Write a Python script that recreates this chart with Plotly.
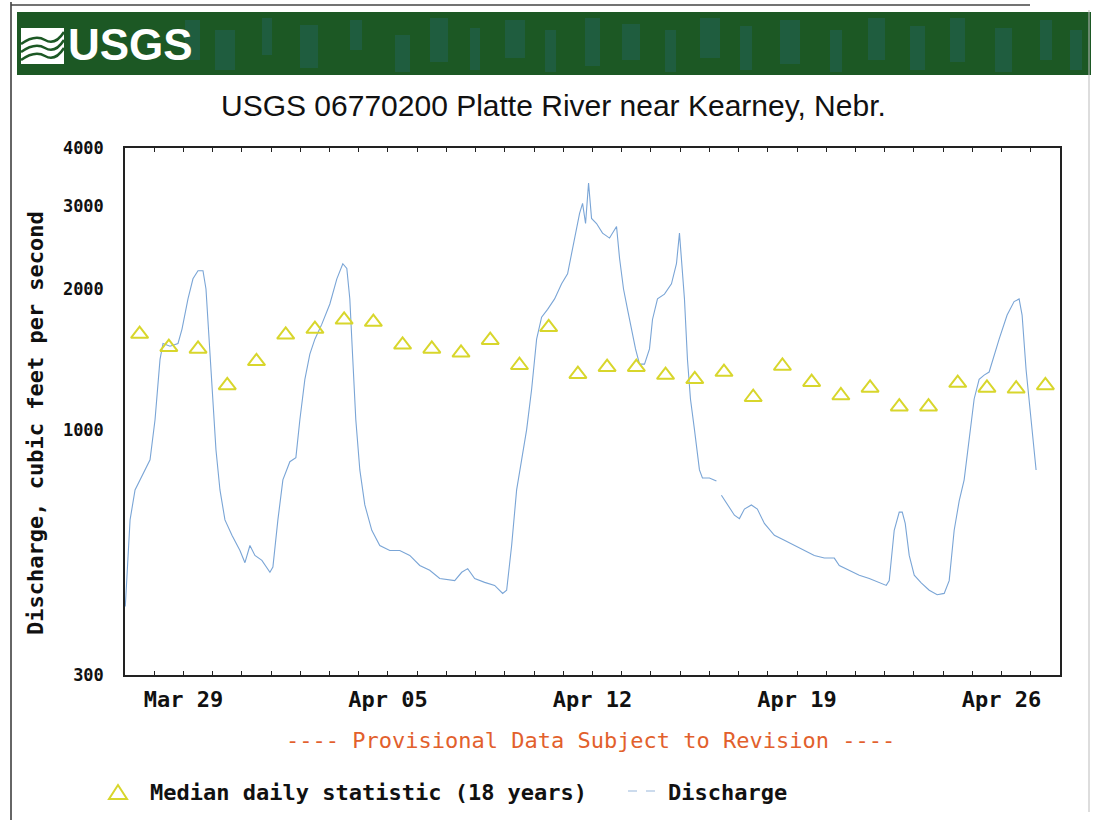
import plotly.graph_objects as go

# ---------------- data ----------------
dis_time = [
    "2007-03-27 00:15", "2007-03-27 04:10", "2007-03-27 08:15", "2007-03-27 16:28", "2007-03-27 20:34",
    "2007-03-28 00:40", "2007-03-28 04:46", "2007-03-28 07:14", "2007-03-28 12:58", "2007-03-28 19:32",
    "2007-03-28 22:49", "2007-03-29 03:44", "2007-03-29 07:50", "2007-03-29 11:57", "2007-03-29 16:03",
    "2007-03-29 18:31", "2007-03-29 20:58", "2007-03-29 23:26", "2007-03-30 02:43", "2007-03-30 06:00",
    "2007-03-30 10:06", "2007-03-30 15:51", "2007-03-30 22:25", "2007-03-31 02:31", "2007-03-31 06:37",
    "2007-03-31 10:43", "2007-03-31 16:27", "2007-03-31 23:02", "2007-04-01 01:29", "2007-04-01 05:35",
    "2007-04-01 09:41", "2007-04-01 15:25", "2007-04-01 20:21", "2007-04-01 23:38", "2007-04-02 03:44",
    "2007-04-02 07:50", "2007-04-02 11:57", "2007-04-02 17:41", "2007-04-03 00:16", "2007-04-03 06:00",
    "2007-04-03 10:55", "2007-04-03 14:12", "2007-04-03 16:40", "2007-04-03 19:07", "2007-04-03 21:35",
    "2007-04-04 00:53", "2007-04-04 04:59", "2007-04-04 10:43", "2007-04-04 17:16", "2007-04-05 01:29",
    "2007-04-05 09:41", "2007-04-05 17:54", "2007-04-06 02:06", "2007-04-06 10:18", "2007-04-06 18:31",
    "2007-04-07 06:50", "2007-04-07 12:34", "2007-04-07 17:29", "2007-04-07 23:13", "2007-04-08 07:26",
    "2007-04-08 15:38", "2007-04-08 22:13", "2007-04-09 01:29", "2007-04-09 05:35", "2007-04-09 09:41",
    "2007-04-09 13:47", "2007-04-09 17:54", "2007-04-09 22:00", "2007-04-10 02:06", "2007-04-10 06:12",
    "2007-04-10 11:07", "2007-04-10 16:52", "2007-04-10 22:37", "2007-04-11 03:32", "2007-04-11 06:50",
    "2007-04-11 10:06", "2007-04-11 13:23", "2007-04-11 15:51", "2007-04-11 18:18", "2007-04-11 20:46",
    "2007-04-11 23:13", "2007-04-12 03:19", "2007-04-12 08:15", "2007-04-12 14:00", "2007-04-12 19:45",
    "2007-04-12 22:13", "2007-04-13 01:29", "2007-04-13 04:46", "2007-04-13 08:03", "2007-04-13 11:20",
    "2007-04-13 14:37", "2007-04-13 18:43", "2007-04-13 22:49", "2007-04-14 01:17", "2007-04-14 05:23",
    "2007-04-14 11:07", "2007-04-14 16:52", "2007-04-14 20:58", "2007-04-14 23:26", "2007-04-15 01:04",
    "2007-04-15 03:32", "2007-04-15 06:00", "2007-04-15 08:28", "2007-04-15 11:45", "2007-04-15 15:51",
    "2007-04-15 18:18", "2007-04-16 00:02", "2007-04-16 05:47", "2007-04-16 07:50", "2007-04-16 09:53",
    "2007-04-16 14:49", "2007-04-16 20:34", "2007-04-17 00:40", "2007-04-17 04:46", "2007-04-17 10:30",
    "2007-04-17 15:25", "2007-04-17 21:11", "2007-04-18 05:23", "2007-04-18 13:36", "2007-04-18 21:47",
    "2007-04-19 06:00", "2007-04-19 14:12", "2007-04-19 22:25", "2007-04-20 06:37", "2007-04-20 10:43",
    "2007-04-20 18:56", "2007-04-21 03:08", "2007-04-21 11:20", "2007-04-21 19:32", "2007-04-22 01:17",
    "2007-04-22 03:44", "2007-04-22 07:50", "2007-04-22 11:57", "2007-04-22 14:25", "2007-04-22 16:52",
    "2007-04-22 20:09", "2007-04-23 00:16", "2007-04-23 06:00", "2007-04-23 12:34", "2007-04-23 19:07",
    "2007-04-24 00:53", "2007-04-24 04:59", "2007-04-24 09:05", "2007-04-24 13:10", "2007-04-24 17:16",
    "2007-04-24 21:22", "2007-04-25 01:29", "2007-04-25 05:35", "2007-04-25 09:41", "2007-04-25 13:47",
    "2007-04-25 17:54", "2007-04-25 22:00", "2007-04-26 04:34", "2007-04-26 10:18", "2007-04-26 14:25",
    "2007-04-26 16:52", "2007-04-26 20:09", "2007-04-27 00:16", "2007-04-27 04:22",
]
dis_cfs = [
    420, 643, 745, 822, 864,
    1052, 1415, 1530, 1510, 1530,
    1643, 1905, 2103, 2188, 2188,
    2000, 1563, 1222, 908, 745,
    643, 596, 553, 521, 567,
    540, 527, 497, 510, 643,
    783, 856, 873, 1052, 1283,
    1452, 1563, 1683, 1858, 2103,
    2265, 2213, 1905, 1415, 1052,
    822, 692, 611, 567, 553,
    553, 540, 514, 502, 482,
    477, 497, 506, 482, 473,
    466, 448, 455, 567, 745,
    864, 1002, 1222, 1563, 1742,
    1810, 1905, 2052, 2156, 2383,
    2632, 2900, 3046, 2760, 3366,
    2830, 2760, 2632, 2569, 2720,
    2326, 2000, 1810, 1643, 1490,
    1383, 1383, 1490, 1722, 1905,
    1950, 2052, 2265, 2632, 2326,
    1905, 1415, 1165, 1002, 822,
    790, 790, 778, None, 726,
    692, 658, 647, 678, 692,
    678, 632, 596, 582, 567,
    553, 540, 533, 533, 514,
    502, 490, 482, 473, 466,
    477, 611, 668, 668, 632,
    540, 490, 472, 455, 445,
    448, 477, 611, 705, 783,
    953, 1165, 1283, 1310, 1330,
    1452, 1563, 1760, 1880, 1905,
    1760, 1345, 1052, 822,
]

median_day = [
    "2007-03-27 12:00", "2007-03-28 12:00", "2007-03-29 12:00", "2007-03-30 12:00",
    "2007-03-31 12:00", "2007-04-01 12:00", "2007-04-02 12:00", "2007-04-03 12:00",
    "2007-04-04 12:00", "2007-04-05 12:00", "2007-04-06 12:00", "2007-04-07 12:00",
    "2007-04-08 12:00", "2007-04-09 12:00", "2007-04-10 12:00", "2007-04-11 12:00",
    "2007-04-12 12:00", "2007-04-13 12:00", "2007-04-14 12:00", "2007-04-15 12:00",
    "2007-04-16 12:00", "2007-04-17 12:00", "2007-04-18 12:00", "2007-04-19 12:00",
    "2007-04-20 12:00", "2007-04-21 12:00", "2007-04-22 12:00", "2007-04-23 12:00",
    "2007-04-24 12:00", "2007-04-25 12:00", "2007-04-26 12:00", "2007-04-27 12:00",
]
median_cfs = [
    1603, 1503, 1490, 1245, 1402, 1597, 1643, 1719,
    1700, 1520, 1490, 1462, 1555, 1375, 1657, 1316,
    1362, 1362, 1310, 1283, 1330, 1175, 1370, 1265,
    1185, 1230, 1122, 1122, 1260, 1230, 1225, 1245,
]

x_tick_dates = ["2007-03-29", "2007-04-05", "2007-04-12", "2007-04-19", "2007-04-26"]
x_tick_text = ["Mar 29", "Apr 05", "Apr 12", "Apr 19", "Apr 26"]
y_tick_vals = [300, 1000, 2000, 3000, 4000]
y_tick_text = ["300", "1000", "2000", "3000", "4000"]

title_text = "USGS 06770200 Platte River near Kearney, Nebr."
y_title = "Discharge, cubic feet per second"
provisional_text = "---- Provisional Data Subject to Revision ----"
legend_median = "Median daily statistic (18 years)"
legend_discharge = "Discharge"

# ---------------- layout geometry ----------------
W, H = 1093, 820
L, R, T, B = 125, 1060, 148, 675
MONO = "DejaVu Sans Mono"


def px(x):
    return (x - L) / (R - L)


def py(y):
    return (B - y) / (B - T)


fig = go.Figure()

fig.add_trace(go.Scatter(
    x=dis_time, y=dis_cfs, mode="lines",
    line=dict(color="#7aa5d6", width=1.1),
    connectgaps=False, showlegend=False, hoverinfo="x+y",
))
fig.add_trace(go.Scatter(
    x=median_day, y=median_cfs, mode="markers",
    marker=dict(symbol="triangle-up-open", size=15, color="#d8d62c",
                line=dict(width=2, color="#d8d62c")),
    showlegend=False,
))

shapes = []
# outer page frame
shapes.append(dict(type="line", xref="paper", yref="paper", x0=px(11), x1=px(11), y0=py(2), y1=py(820),
                   line=dict(color="#333333", width=1.5)))
shapes.append(dict(type="line", xref="paper", yref="paper", x0=px(11), x1=px(1030), y0=py(5), y1=py(5),
                   line=dict(color="#444444", width=1.5)))
shapes.append(dict(type="line", xref="paper", yref="paper", x0=px(1089), x1=px(1089), y0=py(10), y1=py(812),
                   line=dict(color="#bbbbbb", width=1)))

# banner (dark green with bluish speckled texture)
shapes.append(dict(type="rect", xref="paper", yref="paper", x0=px(17), x1=px(1091), y0=py(12), y1=py(75),
                   fillcolor="#1c5824", line=dict(width=0), layer="below"))
streaks = [(185, 200, 20, 60), (215, 235, 30, 70), (262, 272, 18, 55), (300, 318, 25, 68),
           (350, 362, 20, 50), (395, 410, 35, 72), (430, 448, 18, 62), (470, 480, 28, 70),
           (505, 525, 20, 58), (545, 556, 30, 72), (585, 600, 18, 66), (622, 640, 24, 60),
           (665, 676, 30, 72), (700, 720, 18, 58), (740, 752, 26, 70), (780, 800, 20, 64),
           (830, 842, 30, 72), (868, 885, 18, 60), (910, 925, 26, 70), (950, 965, 18, 62),
           (995, 1012, 28, 72), (1040, 1052, 20, 60), (1070, 1082, 30, 70)]
for a, b, c, d in streaks:
    shapes.append(dict(type="rect", xref="paper", yref="paper", x0=px(a), x1=px(b), y0=py(c), y1=py(d),
                       fillcolor="rgba(45,115,160,0.22)", line=dict(width=0), layer="below"))
# logo icon
shapes.append(dict(type="rect", xref="paper", yref="paper", x0=px(21), x1=px(64), y0=py(28), y1=py(64),
                   fillcolor="white", line=dict(width=0)))
for dy in (38, 46, 54):
    shapes.append(dict(type="path", xref="paper", yref="paper",
                       path=f"M {px(21)},{py(dy+6)} Q {px(35)},{py(dy-4)} {px(45)},{py(dy+2)} T {px(64)},{py(dy-6)}",
                       line=dict(color="#1c5824", width=2.5)))

# legend symbols
shapes.append(dict(type="path", xref="paper", yref="paper",
                   path=f"M {px(109)},{py(799)} L {px(127)},{py(799)} L {px(118)},{py(785)} Z",
                   line=dict(color="#d8d62c", width=2)))
shapes.append(dict(type="line", xref="paper", yref="paper", x0=px(628), x1=px(656), y0=py(791), y1=py(791),
                   line=dict(color="#9ab7dc", width=1.2, dash="dash")))

annotations = [
    dict(text="<b>USGS</b>", x=px(66), y=py(45), xref="paper", yref="paper", xanchor="left", yanchor="middle",
         showarrow=False, font=dict(family="Liberation Sans Narrow, Liberation Sans", size=44, color="white")),
    dict(text=title_text, x=px(553), y=py(105), xref="paper", yref="paper", xanchor="center", yanchor="middle",
         showarrow=False, font=dict(family="Liberation Sans Narrow, Liberation Sans", size=30, color="#111111")),
    dict(text=f"<b>{y_title}</b>", x=px(35), y=py(423), xref="paper", yref="paper", textangle=-90,
         xanchor="center", yanchor="middle", showarrow=False, font=dict(family=MONO, size=22, color="#111111")),
    dict(text=provisional_text, x=px(590), y=py(740), xref="paper", yref="paper", xanchor="center",
         yanchor="middle", showarrow=False, font=dict(family=MONO, size=22, color="#e2602c")),
    dict(text=f"<b>{legend_median}</b>", x=px(148), y=py(792), xref="paper", yref="paper", xanchor="left",
         yanchor="middle", showarrow=False, font=dict(family=MONO, size=22, color="#111111")),
    dict(text=f"<b>{legend_discharge}</b>", x=px(666), y=py(792), xref="paper", yref="paper", xanchor="left",
         yanchor="middle", showarrow=False, font=dict(family=MONO, size=22, color="#111111")),
]

fig.update_layout(
    width=W, height=H,
    margin=dict(l=L, r=W - R, t=T, b=H - B, pad=0),
    paper_bgcolor="white", plot_bgcolor="white",
    shapes=shapes, annotations=annotations,
    showlegend=False,
)
fig.update_xaxes(
    type="date", range=["2007-03-27 00:00", "2007-04-28 00:00"],
    tickvals=x_tick_dates, ticktext=x_tick_text,
    ticks="inside", ticklen=4, tickcolor="#222222",
    minor=dict(dtick=86400000, ticks="inside", ticklen=4, tickcolor="#222222", showgrid=False),
    showgrid=False, zeroline=False,
    showline=True, linecolor="#222222", linewidth=1.5, mirror="ticks",
    tickfont=dict(family=MONO, size=22, color="#111111", weight="bold"),
    ticklabelstandoff=4,
)
fig.update_yaxes(
    type="log", range=[2.47712, 3.60206],
    tickvals=y_tick_vals, ticktext=y_tick_text, ticks="",
    showgrid=False, zeroline=False,
    showline=True, linecolor="#222222", linewidth=1.5, mirror=True,
    tickfont=dict(family=MONO, size=17, color="#111111", weight="bold"),
    ticklabelstandoff=16,
)

fig.write_html(
    "out.html",
    config={"displayModeBar": False},
    post_script="document.body.style.margin='0';document.body.style.padding='0';",
)
